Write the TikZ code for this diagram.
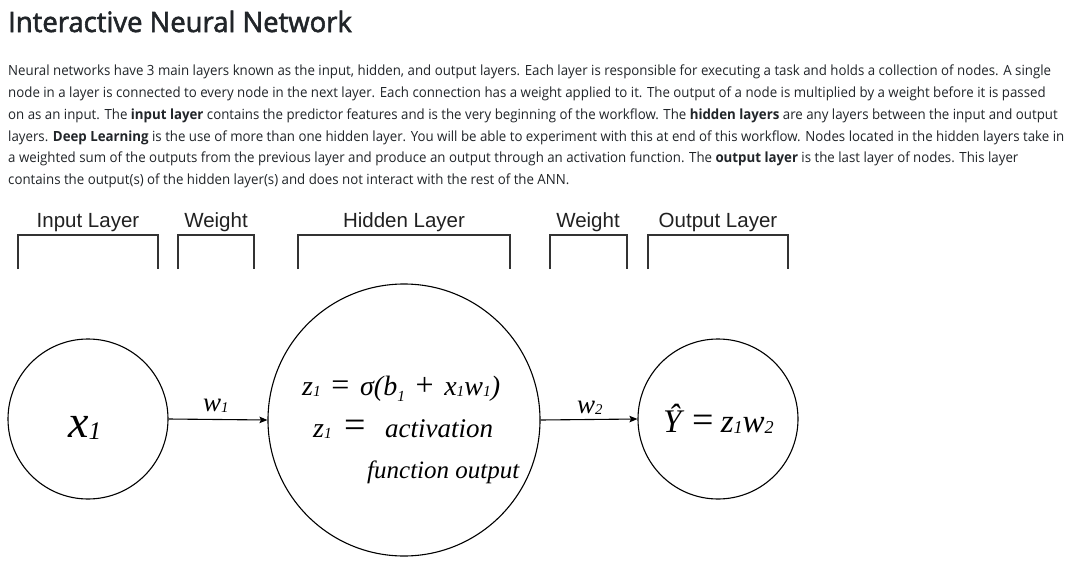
\documentclass[tikz,border=0pt]{standalone}
\usepackage{fontspec}
\setmainfont[FakeStretch=0.948]{Open Sans}
\newfontfamily\titlefont[FakeStretch=0.98,FakeBold=2]{Open Sans}
\newfontfamily\hdfont{Liberation Sans}
\newfontfamily\mfont{Liberation Serif}
\usetikzlibrary{arrows.meta}
\definecolor{txt}{HTML}{212529}
\definecolor{brk}{HTML}{333333}
\newcommand\lsub[1]{\raisebox{-0.05em}{\scalebox{0.55}{#1}}}
\newcommand\dsub[1]{\raisebox{-0.22em}{\scalebox{0.55}{#1}}}
\newcommand\bigop[2]{{\upshape\fontsize{#1}{#1}\selectfont #2}}
\tikzset{
  body/.style={anchor=base west, inner sep=0pt, text=txt, font=\fontsize{14}{16}\selectfont},
  hd/.style={anchor=base, inner sep=0pt, text=black!87, font=\hdfont\fontsize{20.5}{22}\selectfont},
  brkline/.style={draw=brk, line width=2pt},
  neuron/.style={circle, draw=black, line width=1.1pt, inner sep=0pt},
  mtxt/.style={anchor=base west, inner sep=0pt, font=\mfont\itshape\fontsize{25}{27}\selectfont},
  conn/.style={draw=black, line width=1.1pt, -{Stealth[length=8pt,width=6.5pt,inset=1.5pt]}},
}
\begin{document}
\begin{tikzpicture}[x=1pt,y=-1pt]
\useasboundingbox (0,0) rectangle (1069,568);
\fill[white] (0,0) rectangle (1069,568);
\node[anchor=base west, inner sep=0pt, text=txt, font=\titlefont\fontsize{28}{30}\selectfont] (title) at (8,32) {Interactive Neural Network};
\node[body] (l1) at (8,75) {Neural networks have 3 main layers known as the input, hidden, and output layers. Each layer is responsible for executing a task and holds a collection of nodes. A single};
\node[body] (l2) at (8,97) {node in a layer is connected to every node in the next layer. Each connection has a weight applied to it. The output of a node is multiplied by a weight before it is passed};
\node[body] (l3) at (8,119) {on as an input. The \textbf{input layer} contains the predictor features and is the very beginning of the workflow. The \textbf{hidden layers} are any layers between the input and output};
\node[body] (l4) at (8,141) {layers. \textbf{Deep Learning} is the use of more than one hidden layer. You will be able to experiment with this at end of this workflow. Nodes located in the hidden layers take in};
\node[body] (l5) at (8,162) {a weighted sum of the outputs from the previous layer and produce an output through an activation function. The \textbf{output layer} is the last layer of nodes. This layer};
\node[body] (l6) at (8,184) {contains the output(s) of the hidden layer(s) and does not interact with the rest of the ANN.};
% headers
\node[hd] (h1) at (88,227) {Input Layer};
\node[hd] (h2) at (216,227) {Weight};
\node[hd] (h3) at (404,227) {Hidden Layer};
\node[hd] (h4) at (588,227) {Weight};
\node[hd] (h5) at (718,227) {Output Layer};
% brackets
\draw[brkline] (18,269) -- (18,235) -- (158,235) -- (158,269);
\draw[brkline] (178,269) -- (178,235) -- (254,235) -- (254,269);
\draw[brkline] (298,269) -- (298,235) -- (510,235) -- (510,269);
\draw[brkline] (550,269) -- (550,235) -- (627,235) -- (627,269);
\draw[brkline] (648,269) -- (648,235) -- (788,235) -- (788,269);
% neurons
\node[neuron, minimum size=160pt] (in) at (88,419) {};
\node[neuron, minimum size=272pt] (hid) at (404,420) {};
\node[neuron, minimum size=160pt] (out) at (718,419) {};
\draw[conn] (in.east) -- (hid.west);
\draw[conn] (hid.east) -- (out.west);
% labels
\node[anchor=base west, inner sep=0pt, font=\mfont\itshape\fontsize{46}{46}\selectfont] (xl) at (68,437) {x\lsub{1}};
\node[anchor=base west, inner sep=0pt, font=\mfont\itshape\fontsize{27}{27}\selectfont] (w1) at (203,411) {w\lsub{1}};
\node[anchor=base west, inner sep=0pt, font=\mfont\itshape\fontsize{27}{27}\selectfont] (w2) at (577,413) {w\lsub{2}};
\node[mtxt, font=\mfont\itshape\fontsize{28}{28}\selectfont] (f1) at (302,395) {z\lsub{1}\hspace{0.38em}\bigop{32}{=}\hspace{0.38em}σ(b\dsub{1}\hspace{0.38em}\bigop{32}{+}\hspace{0.38em}x\lsub{1}w\lsub{1})};
\node[mtxt, font=\mfont\itshape\fontsize{28}{28}\selectfont] (f2) at (313,437) {z\lsub{1}\hspace{0.45em}\bigop{38}{=}};
\node[mtxt, font=\mfont\itshape\fontsize{27}{27}\selectfont] (f3) at (385,437) {activation};
\node[mtxt] (f4) at (367,478) {function output};
\node[anchor=base west, inner sep=0pt, font=\mfont\itshape\fontsize{33}{33}\selectfont] (yl) at (663,432) {Ŷ\hspace{0.32em}\bigop{38}{=}\hspace{0.22em}z\lsub{1}w\lsub{2}};
\end{tikzpicture}
\end{document}
